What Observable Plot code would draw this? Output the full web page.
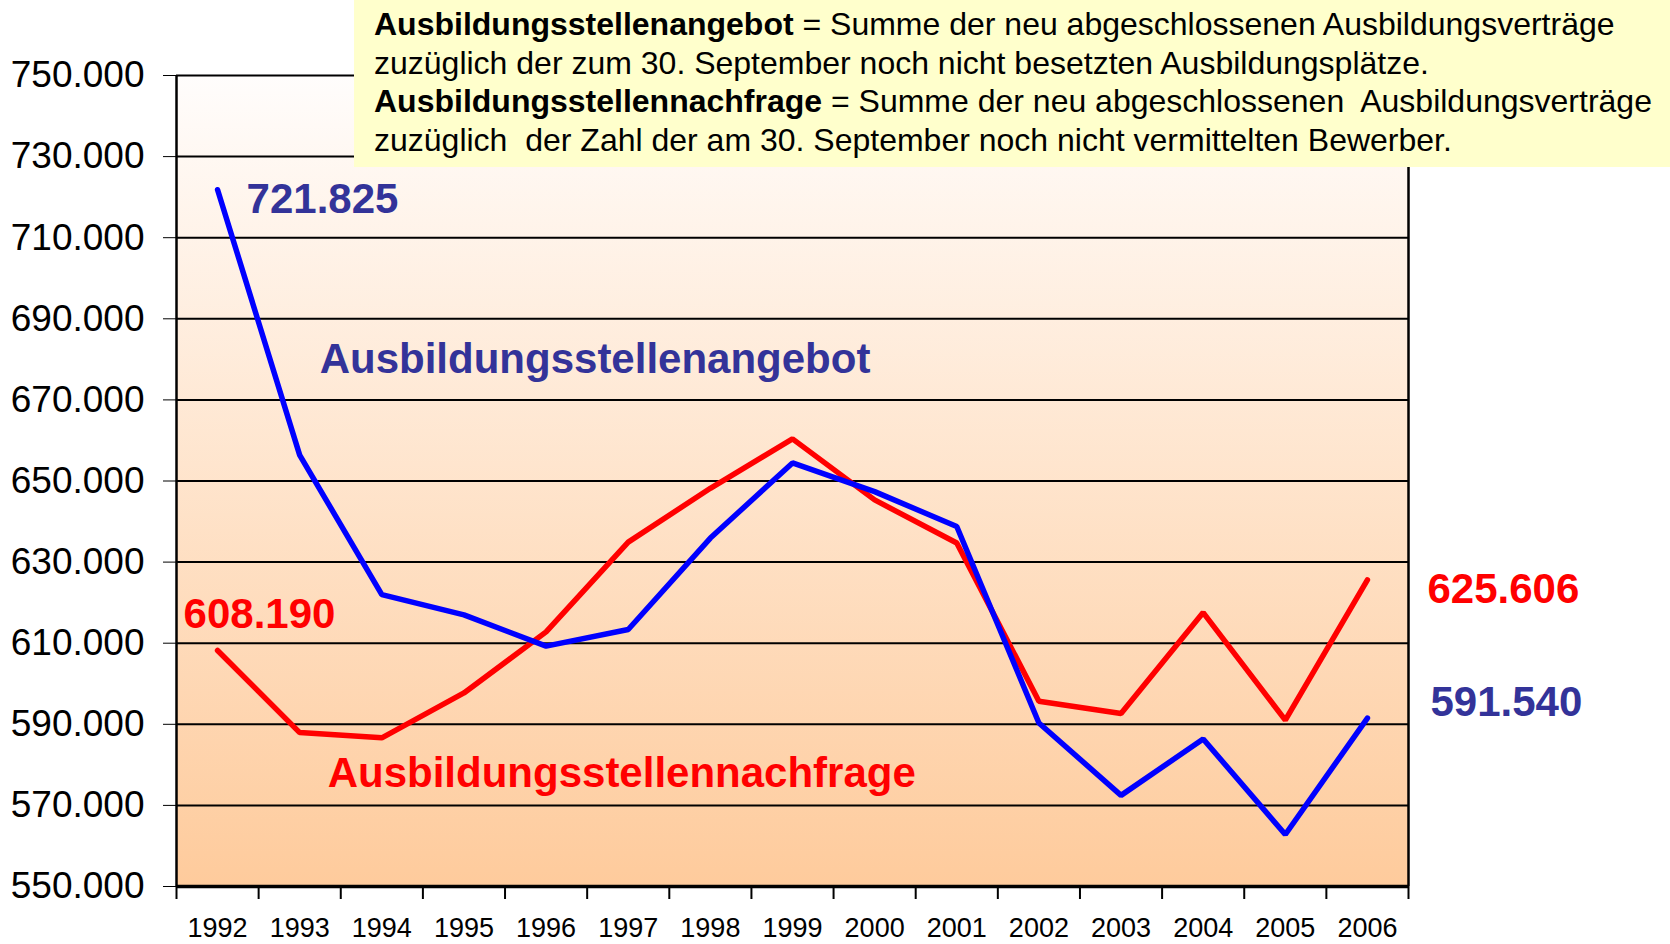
<!DOCTYPE html>
<html>
<head>
<meta charset="utf-8">
<script src="https://cdn.jsdelivr.net/npm/d3@7"></script>
<script src="https://cdn.jsdelivr.net/npm/@observablehq/plot@0.6"></script>
<style>
  html, body { margin: 0; padding: 0; background: #fff; }
  #wrap { position: relative; width: 1670px; height: 944px; overflow: hidden; font-family: "Liberation Sans", Arial, sans-serif; }
  #defbox { position: absolute; left: 354px; top: 0; width: 1316px; height: 167px; background: #ffffcc; box-sizing: border-box; padding: 5px 0 0 20px; font-size: 32px; line-height: 38.5px; color: #000; white-space: pre; }
  #defbox b { font-weight: bold; }
</style>
</head>
<body>
<div id="wrap"></div>
<script>
const years = [1992,1993,1994,1995,1996,1997,1998,1999,2000,2001,2002,2003,2004,2005,2006];
const angebot = [721825,656392,621973,616988,609274,613382,635933,654454,647383,638771,590328,572474,586374,562816,591540];
const nachfrage = [608190,587951,586655,597736,612785,634938,648204,660380,645335,634698,595706,592649,617556,591010,625606];
const yTicks = [550000,570000,590000,610000,630000,650000,670000,690000,710000,730000,750000];
const defLines = [
  ["Ausbildungsstellenangebot", " = Summe der neu abgeschlossenen Ausbildungsverträge"],
  ["", "zuzüglich der zum 30. September noch nicht besetzten Ausbildungsplätze."],
  ["Ausbildungsstellennachfrage", " = Summe der neu abgeschlossenen  Ausbildungsverträge"],
  ["", "zuzüglich  der Zahl der am 30. September noch nicht vermittelten Bewerber."]
];
const seriesLabels = [
  {text: "Ausbildungsstellenangebot", year: 1993, value: 680000, color: "#333399", dx: 20, dy: 0, cls: "lblA"},
  {text: "Ausbildungsstellennachfrage", year: 1993, value: 570000, color: "#ff0000", dx: 28, dy: -32, cls: "lblN"}
];

const fmt = d => d3.format(",")(d).replace(/,/g, ".");
const rowsA = years.map((y, i) => ({year: y, value: angebot[i]}));
const rowsN = years.map((y, i) => ({year: y, value: nachfrage[i]}));
const first = years[0], last = years[years.length - 1];
const bounds = years.map(y => y - 0.5).concat([last + 0.5]);
const xDomain = [first - 0.5, last + 0.5];

const endLabels = [
  {year: first, value: angebot[0], color: "#333399", dx: 29, dy: 10},
  {year: first, value: nachfrage[0], color: "#ff0000", dx: -34, dy: -36},
  {year: last, value: nachfrage[nachfrage.length - 1], color: "#ff0000", dx: 60, dy: 10},
  {year: last, value: angebot[angebot.length - 1], color: "#333399", dx: 63, dy: -16}
];

const gradientDefs = () => {
  const defs = d3.create("svg:defs");
  const g = defs.append("linearGradient").attr("id", "bg").attr("x1", 0).attr("x2", 0).attr("y1", 0).attr("y2", 1);
  g.append("stop").attr("offset", "0%").attr("stop-color", "#fffdfc");
  g.append("stop").attr("offset", "100%").attr("stop-color", "#fecb9c");
  return defs.node();
};

const chart = Plot.plot({
  width: 1670,
  height: 944,
  marginLeft: 176,
  marginRight: 262,
  marginTop: 75,
  marginBottom: 58,
  style: {fontFamily: "'Liberation Sans', Arial, sans-serif", background: "transparent", overflow: "visible"},
  x: {domain: xDomain, type: "linear"},
  y: {domain: [yTicks[0], yTicks[yTicks.length - 1]]},
  marks: [
    gradientDefs,
    Plot.frame({fill: "url(#bg)", stroke: null}),
    Plot.ruleY(yTicks.slice(1), {stroke: "#000", strokeWidth: 2}),
    Plot.ruleY([yTicks[0]], {stroke: "#000", strokeWidth: 3.5}),
    Plot.ruleX([xDomain[0]], {stroke: "#000", strokeWidth: 2.5}),
    Plot.ruleX([xDomain[1]], {stroke: "#000", strokeWidth: 2.5}),
    Plot.axisY({ticks: yTicks, tickSize: 13, tickPadding: 19, tickFormat: fmt, fontSize: 37, tickStrokeWidth: 2, stroke: "#000", color: "#000", label: null}),
    Plot.axisX({ticks: bounds, tickSize: 13, tickFormat: () => "", strokeWidth: 2, label: null}),
    Plot.axisX({ticks: years, tickSize: 0, tickPadding: 31, tickFormat: d => String(d), fontSize: 27, color: "#000", label: null}),
    ...seriesLabels.map(l => Plot.text([l], {x: "year", y: "value", text: "text", fill: l.color, dx: l.dx, dy: l.dy, textAnchor: "start", fontSize: 42, fontWeight: "bold", className: l.cls})),
    Plot.line(rowsN, {x: "year", y: "value", stroke: "#ff0000", strokeWidth: 5.5, strokeLinejoin: "miter", strokeLinecap: "round"}),
    Plot.line(rowsA, {x: "year", y: "value", stroke: "#0000ff", strokeWidth: 5.5, strokeLinejoin: "miter", strokeLinecap: "round"}),
    ...endLabels.map(l => Plot.text([l], {x: "year", y: "value", text: d => fmt(d.value), fill: l.color, dx: l.dx, dy: l.dy, textAnchor: "start", fontSize: 42, fontWeight: "bold"}))
  ]
});

const wrap = document.getElementById("wrap");
wrap.appendChild(chart);

// white outline box around the first series label
const lblG = chart.querySelector("g.lblA");
const lbl = lblG ? lblG.querySelector("text") : null;
if (lbl) {
  const bb = lbl.getBBox();
  const r = document.createElementNS("http://www.w3.org/2000/svg", "rect");
  r.setAttribute("x", bb.x - 21);
  r.setAttribute("y", bb.y - 12);
  r.setAttribute("width", bb.width + 124);
  r.setAttribute("height", bb.height + 22);
  r.setAttribute("fill", "none");
  r.setAttribute("stroke", "#ffffff");
  r.setAttribute("stroke-width", 2);
  const t = lblG.getAttribute("transform");
  if (t) r.setAttribute("transform", t);
  lblG.parentNode.insertBefore(r, lblG);
}

const box = document.createElement("div");
box.id = "defbox";
box.innerHTML = defLines.map(([b, t]) => (b ? "<b>" + b + "</b>" : "") + t).join("\n");
wrap.appendChild(box);
</script>
</body>
</html>
